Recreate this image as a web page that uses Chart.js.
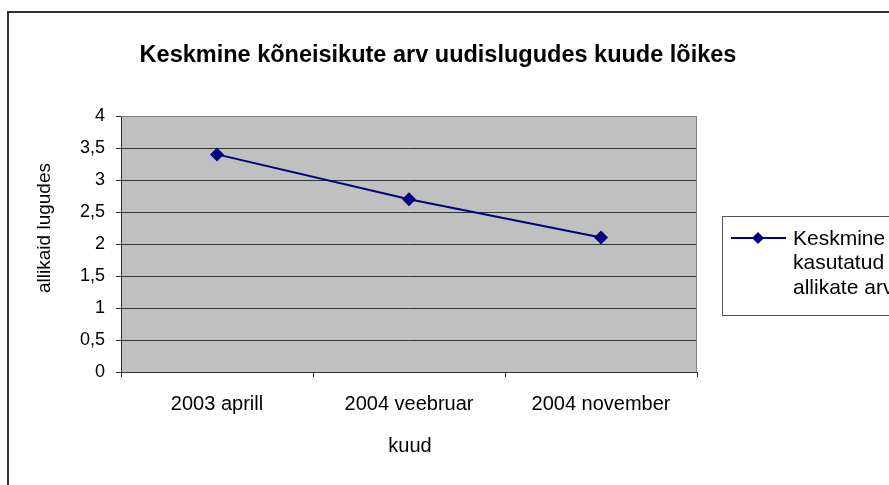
<!DOCTYPE html>
<html>
<head>
<meta charset="utf-8">
<script src="https://cdn.jsdelivr.net/npm/chart.js@4.4.1/dist/chart.umd.min.js"></script>
<style>
    body { margin: 0; background: #fff; }
    canvas { display: block; }
</style>
</head>
<body>
<canvas id="chart" width="889" height="485"></canvas>
<script>
const months = ['2003 aprill', '2004 veebruar', '2004 november'];
const avgSources = [3.4, 2.7, 2.1];
const legendLines = ['Keskmine', 'kasutatud', 'allikate arv'];
const chartTitle = 'Keskmine kõneisikute arv uudislugudes kuude lõikes';
const yTitle = 'allikaid lugudes';
const xTitle = 'kuud';

const FONT = '"Liberation Sans", Arial, sans-serif';
const NAVY = '#000080';

// plot frame, titles and the cut-off legend box
const decorations = {
    id: 'decorations',
    beforeDraw(chart) {
        const { ctx, chartArea: a } = chart;
        ctx.save();
        ctx.fillStyle = '#c0c0c0';
        ctx.fillRect(a.left, a.top, a.right - a.left, a.bottom - a.top);
        ctx.restore();
    },
    beforeDatasetsDraw(chart) {
        const { ctx, chartArea: a } = chart;
        ctx.save();
        ctx.strokeStyle = '#808080';
        ctx.lineWidth = 1;
        ctx.beginPath();
        ctx.moveTo(a.left, a.top + 0.5);
        ctx.lineTo(a.right - 0.5, a.top + 0.5);
        ctx.lineTo(a.right - 0.5, a.bottom);
        ctx.stroke();
        ctx.restore();
    },
    afterDraw(chart) {
        const ctx = chart.ctx;
        ctx.save();

        ctx.strokeStyle = '#333';
        ctx.lineWidth = 2;
        ctx.strokeRect(8, 12, 1000, 1000);

        ctx.fillStyle = '#000';
        ctx.textAlign = 'center';
        ctx.textBaseline = 'middle';
        ctx.font = 'bold 23.5px ' + FONT;
        ctx.fillText(chartTitle, 438, 56);

        ctx.font = '20px ' + FONT;
        ctx.fillText(xTitle, 410, 446);

        ctx.save();
        ctx.translate(45, 228);
        ctx.rotate(-Math.PI / 2);
        ctx.font = '19px ' + FONT;
        ctx.fillText(yTitle, 0, 0);
        ctx.restore();

        // legend
        ctx.strokeStyle = '#555';
        ctx.lineWidth = 1;
        ctx.strokeRect(722.5, 216.5, 300, 99);

        const ds = chart.data.datasets[0];
        ctx.strokeStyle = ds.borderColor;
        ctx.lineWidth = 2;
        ctx.beginPath();
        ctx.moveTo(731, 238);
        ctx.lineTo(786, 238);
        ctx.stroke();
        ctx.fillStyle = ds.backgroundColor;
        ctx.beginPath();
        ctx.moveTo(758, 232);
        ctx.lineTo(764, 238);
        ctx.lineTo(758, 244);
        ctx.lineTo(752, 238);
        ctx.closePath();
        ctx.fill();

        ctx.fillStyle = '#000';
        ctx.textAlign = 'left';
        ctx.font = '21px ' + FONT;
        legendLines.forEach((line, i) => {
            ctx.fillText(line, 793, 239 + i * 24.5);
        });

        ctx.restore();
    }
};

new Chart(document.getElementById('chart'), {
    type: 'line',
    data: {
        labels: months,
        datasets: [{
            label: legendLines.join(' '),
            data: avgSources,
            borderColor: NAVY,
            backgroundColor: NAVY,
            borderWidth: 2,
            pointStyle: 'rectRot',
            pointRadius: 7,
            pointBorderWidth: 0,
            tension: 0
        }]
    },
    options: {
        responsive: false,
        animation: false,
        devicePixelRatio: 1,
        layout: {
            padding: { left: 0, top: 116, right: 192, bottom: 0 }
        },
        plugins: {
            legend: { display: false },
            title: { display: false },
            tooltip: { enabled: false }
        },
        scales: {
            x: {
                offset: true,
                grid: {
                    offset: true,
                    drawOnChartArea: false,
                    drawTicks: true,
                    tickLength: 5,
                    tickColor: '#333'
                },
                border: { color: '#333', width: 1 },
                ticks: {
                    color: '#000',
                    padding: 15,
                    maxRotation: 0,
                    font: { family: FONT, size: 20 }
                },
                afterFit(scale) { scale.height = 113; }
            },
            y: {
                min: 0,
                max: 4,
                grid: {
                    color: ctx => ctx.tick && ctx.tick.value === 4 ? '#808080' : '#333',
                    tickColor: '#333',
                    tickLength: 5
                },
                border: { color: '#333', width: 1 },
                ticks: {
                    stepSize: 0.5,
                    color: '#000',
                    padding: 11,
                    font: { family: FONT, size: 18 },
                    callback: v => String(v).replace('.', ',')
                },
                afterFit(scale) { scale.width = 121; }
            }
        }
    },
    plugins: [decorations]
});
</script>
</body>
</html>
